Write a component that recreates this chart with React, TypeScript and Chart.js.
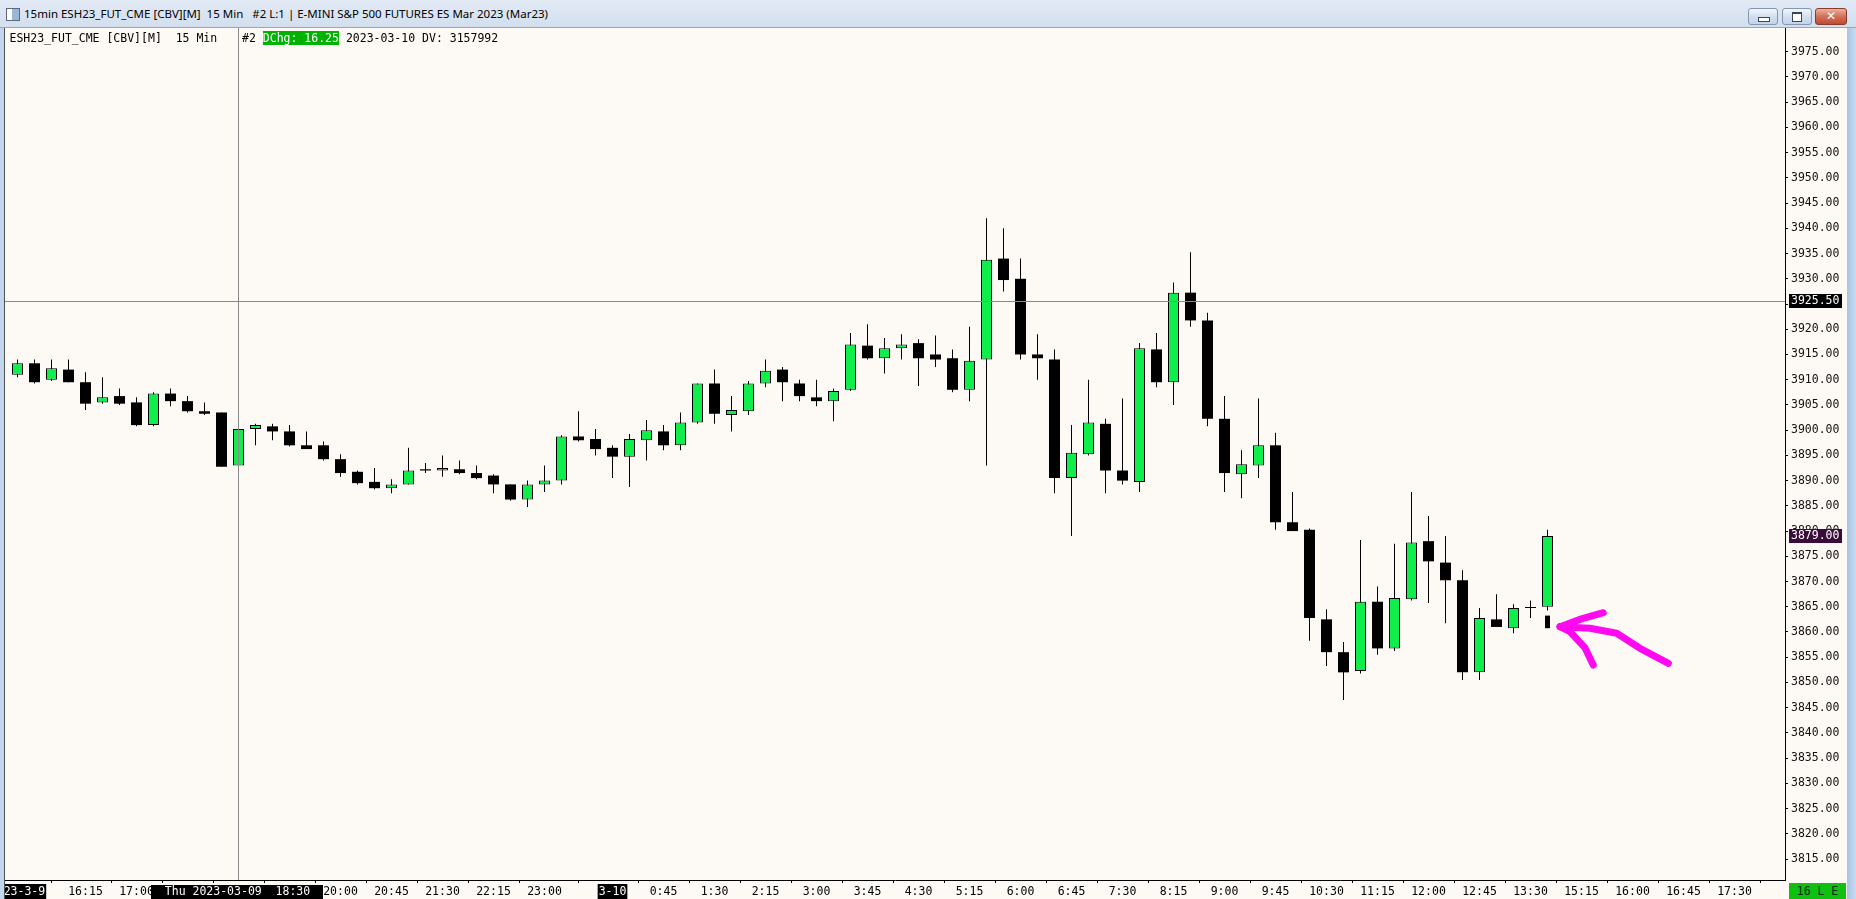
import React, { useEffect, useRef } from 'react';
import { Chart, registerables } from 'chart.js';

Chart.register(...registerables);

// ---- OHLC data, 15-minute bars (index 0 = 15:15 on 2023-03-09) ----
const opens = [
  3911, 3913.25, 3910, 3912, 3909.5, 3905.5, 3906.75, 3905.5, 3901, 3907.25,
  3905.75, 3903.75, 3903.5, 3893, 3900.25, 3900.75, 3899.75, 3897, 3897, 3894.25,
  3891.75, 3889.75, 3888.5, 3889.25, 3892.25, 3892, 3892.25, 3891.5, 3891, 3889.25,
  3886.25, 3889.25, 3890, 3898.75, 3898.25, 3896.5, 3894.75, 3898, 3899.75, 3897,
  3901.5, 3909.25, 3903, 3903.75, 3909.25, 3912, 3909.25, 3906.5, 3905.75, 3908,
  3916.75, 3914.25, 3916.25, 3917.25, 3915, 3914.25, 3908, 3914, 3934, 3930,
  3915, 3914, 3890.5, 3895.25, 3901.25, 3892, 3889.75, 3916, 3909.5, 3927.25,
  3921.75, 3902.25, 3891.25, 3893, 3897, 3881.75, 3880.25, 3862.5, 3856, 3852.25,
  3866, 3856.75, 3866.5, 3878, 3873.75, 3870.25, 3852, 3862.5, 3860.75, 3864.75,
  3865,
];
const highs = [
  3914, 3914, 3914, 3914, 3911.5, 3910.5, 3908.25, 3906.5, 3907.5, 3908.25,
  3906.75, 3905.5, 3903.5, 3900.25, 3901.25, 3901.25, 3901, 3899.75, 3897.75, 3895.25,
  3892, 3892.5, 3890.25, 3896.5, 3893.5, 3895, 3894, 3893, 3891.25, 3889.25,
  3890, 3893, 3899, 3903.75, 3900.25, 3897, 3899.25, 3902, 3901, 3903.5,
  3909.25, 3912, 3906.75, 3909.75, 3914, 3912.5, 3910, 3910, 3908.25, 3919.25,
  3921, 3918.25, 3919, 3918, 3918.75, 3916, 3920.5, 3942, 3940, 3934,
  3919, 3916, 3901, 3910, 3902.25, 3906.25, 3917.25, 3919.25, 3929.25, 3935.25,
  3923.25, 3906.75, 3896, 3906.25, 3899.5, 3887.75, 3880.5, 3864.5, 3858, 3878.25,
  3869, 3877.5, 3887.75, 3883, 3879, 3872.25, 3864.75, 3867.5, 3865.5, 3866.25,
  3880.25,
];
const lows = [
  3910.5, 3909.25, 3909.75, 3909.5, 3904, 3905.25, 3905, 3900.75, 3900.75, 3904.75,
  3903.5, 3903, 3892.75, 3892.75, 3897, 3898, 3896.75, 3896.25, 3894, 3890.75,
  3889.25, 3888.25, 3887.5, 3889.25, 3891.5, 3890.75, 3891.25, 3890.25, 3887.5, 3886,
  3884.75, 3887.75, 3889.25, 3897.75, 3895, 3890.5, 3888.75, 3894, 3896, 3896,
  3901.25, 3901.25, 3899.75, 3903, 3908.5, 3905.75, 3905.75, 3904.75, 3901.75, 3907.75,
  3914, 3911.25, 3914, 3908.75, 3912.5, 3907.5, 3905.75, 3893, 3927.5, 3914,
  3910, 3887.5, 3879, 3895, 3887.5, 3889.25, 3887.75, 3908.5, 3905, 3920.5,
  3900.75, 3887.75, 3886.5, 3890.5, 3880.25, 3880, 3858.25, 3853.25, 3846.5, 3851.75,
  3855.5, 3856.25, 3866.25, 3865.75, 3861.75, 3850.5, 3850.5, 3861, 3859.75, 3862.75,
  3864.25,
];
const closes = [
  3913.25, 3909.5, 3912.25, 3909.5, 3905.25, 3906.5, 3905.25, 3901, 3907.25, 3905.75,
  3903.75, 3903.25, 3892.75, 3900.25, 3901, 3899.75, 3897, 3896.25, 3894.25, 3891.5,
  3889.5, 3888.5, 3889.25, 3892, 3892, 3892.5, 3891.5, 3890.5, 3889.25, 3886.25,
  3889.25, 3890, 3898.75, 3898, 3896.25, 3894.75, 3898.25, 3900, 3897, 3901.5,
  3909.25, 3903.25, 3904, 3909.25, 3911.75, 3909.5, 3906.75, 3905.75, 3907.75, 3917,
  3914.25, 3916.25, 3917, 3914.25, 3914, 3908, 3913.75, 3933.75, 3929.75, 3915,
  3914.25, 3890.5, 3895.5, 3901.5, 3892, 3890, 3916.25, 3909.5, 3927.25, 3921.75,
  3902.25, 3891.5, 3893.25, 3897, 3881.75, 3880, 3862.75, 3856, 3852, 3866,
  3856.75, 3866.75, 3877.75, 3874, 3870.25, 3852, 3862.75, 3861, 3864.75, 3864.75,
  3879,
];

// small black marker drawn under the last bar
const markerIndex = [90];
const markerTop = [3863.25];
const markerBottom = [3860.75];

// ---- axis labels ----
const tickIndices = [
  0, 4, 7, 10, 13, 16, 19, 22, 25, 28, 31,
  35, 38, 41, 44, 47, 50, 53, 56, 59, 62, 65, 68, 71, 74, 77, 80, 83, 86, 89,
  92, 95, 98, 101,
];
const tickLabels = [
  '2023-3-9', '16:15', '17:00', '17:45', '18:30', '19:15', '20:00', '20:45', '21:30', '22:15', '23:00',
  '3-10', '0:45', '1:30', '2:15', '3:00', '3:45', '4:30', '5:15', '6:00', '6:45', '7:30', '8:15',
  '9:00', '9:45', '10:30', '11:15', '12:00', '12:45', '13:30',
  '15:15', '16:00', '16:45', '17:30',
];
const dateTickIndices = [0, 35];

const crosshairIndex = 13;
const crosshairPrice = 3925.5;
const crosshairTimeLabel = 'Thu 2023-03-09  18:30';
const lastPrice = 3879.0;

// hand-drawn magenta arrow, in (bar index, price) units
const arrowTail = [[90.74, 3861.05], [92.5, 3860.73], [94.07, 3859.74], [95.44, 3856.77], [97.11, 3853.79]];
const arrowUpperBarb = [[90.74, 3861.05], [92.0, 3862.6], [93.28, 3863.82]];
const arrowLowerBarb = [[90.74, 3861.05], [91.32, 3860.06], [92.21, 3856.83], [92.69, 3853.46]];

const Y_MIN = 3810.85;
const Y_MAX = 3979.7;
const X_MIN = -12.5 / 17;
const X_MAX = X_MIN + 1780 / 17;

const MONO = "'DejaVu Sans Mono', monospace";
const BG = '#fdfaf5';
const UP = '#10ee4c';

export default function App() {
  const ref = useRef<HTMLCanvasElement>(null);

  useEffect(() => {
    document.documentElement.style.overflow = 'hidden';
    document.body.style.margin = '0';
    const canvas = ref.current!;

    const up: any[] = [];
    const down: any[] = [];
    const wicks: any[] = [];
    for (let i = 0; i < opens.length; i++) {
      wicks.push({ x: i, y: [lows[i], highs[i]] });
      if (closes[i] > opens[i]) up.push({ x: i, y: [opens[i], closes[i]] });
      else down.push({ x: i, y: [closes[i], opens[i]] });
    }
    const markers = markerIndex.map((ix, k) => ({ x: ix, y: [markerBottom[k], markerTop[k]] }));

    const overlay = {
      id: 'overlay',
      afterDatasetsDraw(chart: any) {
        const { ctx, chartArea, scales } = chart;
        const x = scales.x;
        const y = scales.y;
        ctx.save();
        // crosshair
        ctx.strokeStyle = '#8a8a8a';
        ctx.lineWidth = 1;
        const cx = x.getPixelForValue(crosshairIndex);
        const cy = Math.round(y.getPixelForValue(crosshairPrice)) + 0.5;
        ctx.beginPath();
        ctx.moveTo(cx, chartArea.top);
        ctx.lineTo(cx, chartArea.bottom);
        ctx.moveTo(chartArea.left, cy);
        ctx.lineTo(chartArea.right, cy);
        ctx.stroke();
        // arrow
        ctx.strokeStyle = '#ff0af0';
        ctx.lineWidth = 7;
        ctx.lineCap = 'round';
        ctx.lineJoin = 'round';
        for (const path of [arrowTail, arrowUpperBarb, arrowLowerBarb]) {
          ctx.beginPath();
          path.forEach(([ix, p], k) => {
            const px = x.getPixelForValue(ix);
            const py = y.getPixelForValue(p);
            if (k === 0) ctx.moveTo(px, py);
            else ctx.lineTo(px, py);
          });
          ctx.stroke();
        }
        ctx.restore();
      },
      afterDraw(chart: any) {
        const { ctx, scales } = chart;
        const x = scales.x;
        const y = scales.y;
        ctx.save();
        ctx.font = `11.5px ${MONO}`;
        ctx.textBaseline = 'middle';
        const box = (val: number, bg: string) => {
          const py = Math.round(y.getPixelForValue(val));
          ctx.fillStyle = bg;
          ctx.fillRect(y.left + 4, py - 7, 53, 14);
          ctx.fillStyle = '#ffffff';
          ctx.textAlign = 'left';
          ctx.fillText(val.toFixed(2), y.left + 6, py + 0.5);
        };
        box(crosshairPrice, '#000000');
        box(lastPrice, '#3b0b3b');
        // crosshair time box
        const cx = x.getPixelForValue(crosshairIndex);
        ctx.fillStyle = '#000000';
        ctx.fillRect(cx - 87.5, x.top + 5, 172, chart.height - x.top - 5);
        ctx.fillStyle = '#ffffff';
        ctx.textAlign = 'center';
        ctx.fillText(crosshairTimeLabel, cx - 1, x.top + 12.5);
        ctx.restore();
      },
    };

    const chart = new Chart(canvas, {
      type: 'bar',
      data: {
        datasets: [
          {
            data: markers as any,
            backgroundColor: '#000000',
            borderWidth: 0,
            barThickness: 5,
            maxBarThickness: 5,
            grouped: false,
            inflateAmount: 0,
          } as any,
          {
            data: up as any,
            backgroundColor: UP,
            borderColor: '#000000',
            borderWidth: 1,
            borderSkipped: false,
            barThickness: 11,
            maxBarThickness: 11,
            grouped: false,
            inflateAmount: 0,
          } as any,
          {
            data: down as any,
            backgroundColor: '#000000',
            borderWidth: 0,
            barThickness: 11,
            maxBarThickness: 11,
            minBarLength: 1,
            grouped: false,
            inflateAmount: 0,
          } as any,
          {
            data: wicks as any,
            backgroundColor: '#000000',
            borderWidth: 0,
            barThickness: 1,
            maxBarThickness: 1,
            grouped: false,
            inflateAmount: 0,
          } as any,
        ],
      },
      options: {
        animation: false,
        responsive: false,
        maintainAspectRatio: false,
        devicePixelRatio: 1,
        events: [],
        layout: { padding: { left: 5, top: 28, right: 0, bottom: 0 } },
        plugins: { legend: { display: false }, tooltip: { enabled: false } },
        font: { family: MONO, size: 11.5 } as any,
        scales: {
          x: {
            type: 'linear',
            position: 'bottom',
            min: X_MIN,
            max: X_MAX,
            offset: false,
            grid: { drawOnChartArea: false, drawTicks: true, tickLength: 3, color: '#000000' },
            border: { display: true, color: '#000000', width: 1 },
            afterBuildTicks: (s: any) => {
              s.ticks = tickIndices.map((v) => ({ value: v }));
            },
            afterFit: (s: any) => {
              s.height = 19;
              s.paddingLeft = 0;
              s.paddingRight = 0;
            },
            ticks: {
              autoSkip: false,
              maxRotation: 0,
              minRotation: 0,
              padding: 2,
              font: { family: MONO, size: 11.5 },
              color: (c: any) => (dateTickIndices.includes(c.tick?.value) ? '#ffffff' : '#000000'),
              showLabelBackdrop: true,
              backdropColor: (c: any) => (dateTickIndices.includes(c.tick?.value) ? '#000000' : 'rgba(0,0,0,0)'),
              backdropPadding: { left: 1, right: 1, top: 1, bottom: 2 },
              callback: (v: any) => {
                const k = tickIndices.indexOf(Number(v));
                return k >= 0 ? tickLabels[k] : '';
              },
            } as any,
          },
          y: {
            type: 'linear',
            position: 'right',
            min: Y_MIN,
            max: Y_MAX,
            grid: { drawOnChartArea: false, drawTicks: true, tickLength: 3, color: '#000000' },
            border: { display: true, color: '#000000', width: 1 },
            afterFit: (s: any) => {
              s.width = 71;
              s.paddingTop = 0;
              s.paddingBottom = 0;
            },
            ticks: {
              stepSize: 5,
              maxTicksLimit: 100,
              includeBounds: false,
              padding: 3,
              color: '#111111',
              font: { family: MONO, size: 11.5 },
              callback: (v: any) => Number(v).toFixed(2),
            } as any,
          },
        },
      } as any,
      plugins: [overlay],
    });
    return () => chart.destroy();
  }, []);

  const btn: React.CSSProperties = {
    position: 'absolute',
    top: 8,
    height: 15,
    border: '1px solid #8496b0',
    borderRadius: 3,
    background: 'linear-gradient(#f2f6fb, #d3dfee 50%, #c3d3e8)',
    boxSizing: 'content-box',
  };

  return (
    <div style={{ position: 'absolute', left: 0, top: 0, width: 1856, height: 899, overflow: 'hidden', background: BG }}>
      <canvas ref={ref} width={1856} height={899} style={{ position: 'absolute', left: 0, top: 0, background: BG }} />
      {/* title bar */}
      <div
        style={{
          position: 'absolute', left: 0, top: 0, width: 1856, height: 27,
          background: 'linear-gradient(#e2eaf5, #d3dfee)', borderBottom: '1px solid #97a6ba',
        }}
      >
        <div style={{ position: 'absolute', left: 6, top: 8, width: 12, height: 11, border: '1px solid #5a6a80', background: 'linear-gradient(90deg,#fff 40%,#9bb7d8 40%)' }} />
        <div
          style={{
            position: 'absolute', left: 24, top: 0, height: 27, lineHeight: '28px', whiteSpace: 'pre',
            fontFamily: "'Noto Sans', sans-serif", fontSize: 11.5, color: '#000',
          }}
        >
          15min ESH23_FUT_CME [CBV][M]  15 Min   #2 L:1 | E-MINI S&amp;P 500 FUTURES ES Mar 2023 (Mar23)
        </div>
        <div style={{ ...btn, left: 1748, width: 28 }}>
          <div style={{ position: 'absolute', left: 9, top: 8, width: 10, height: 3, border: '1px solid #39475a', background: '#fff' }} />
        </div>
        <div style={{ ...btn, left: 1782, width: 28 }}>
          <div style={{ position: 'absolute', left: 9, top: 3, width: 8, height: 7, border: '1px solid #39475a', borderTopWidth: 2, background: '#fff' }} />
        </div>
        <div
          style={{
            ...btn, left: 1815, width: 30, border: '1px solid #8b3a2c',
            background: 'linear-gradient(#eab1a0, #d2705a 50%, #c24a30)', color: '#fff',
            fontFamily: "'DejaVu Sans', sans-serif", fontWeight: 'bold', fontSize: 12, lineHeight: '15px', textAlign: 'center',
          }}
        >
          ✕
        </div>
      </div>
      {/* window frame pieces */}
      <div style={{ position: 'absolute', left: 0, top: 28, width: 4, height: 871, background: '#c4d6ec' }} />
      <div style={{ position: 'absolute', left: 4, top: 28, width: 1, height: 871, background: '#505050' }} />
      <div style={{ position: 'absolute', left: 1847, top: 28, width: 9, height: 871, background: 'linear-gradient(90deg,#a9c4e4,#c9dbf0)' }} />
      {/* header row */}
      <div style={{ position: 'absolute', left: 9.5, top: 31, fontFamily: MONO, fontSize: 11.5, lineHeight: '14px', whiteSpace: 'pre', color: '#000' }}>
        ESH23_FUT_CME [CBV][M]  15 Min
      </div>
      <div style={{ position: 'absolute', left: 242, top: 31, fontFamily: MONO, fontSize: 11.5, lineHeight: '14px', whiteSpace: 'pre', color: '#000' }}>
        {'#2 '}
        <span style={{ background: '#00b200', color: '#ffffff' }}>DChg: 16.25</span>
        {' 2023-03-10 DV: 3157992'}
      </div>
      {/* bottom-right status box */}
      <div
        style={{
          position: 'absolute', left: 1789, top: 883, width: 57, height: 16, background: '#10c010',
          fontFamily: MONO, fontSize: 11.5, lineHeight: '17px', whiteSpace: 'pre', color: '#0b2a0b', textAlign: 'center',
        }}
      >
        16 L E
      </div>
    </div>
  );
}
